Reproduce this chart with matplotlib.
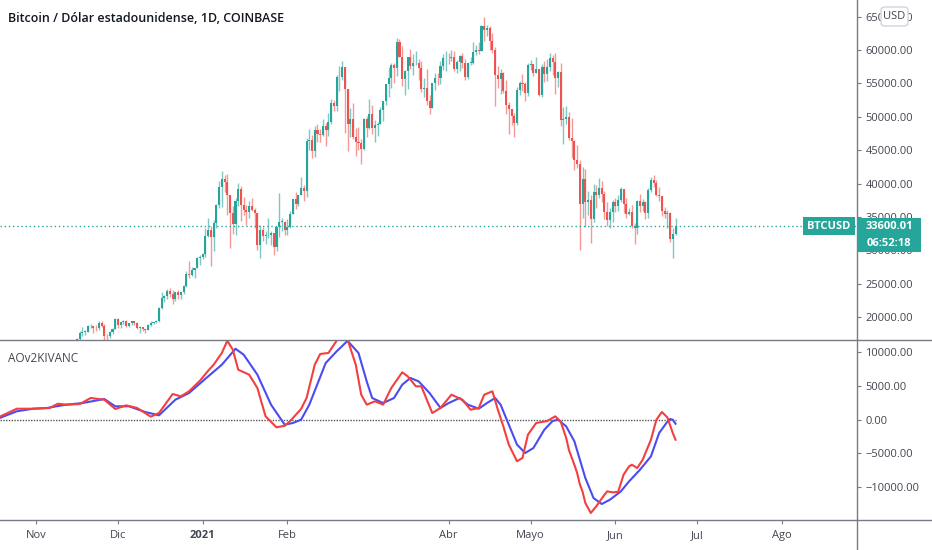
import numpy as np
import pandas as pd
import matplotlib
matplotlib.use("Agg")
import matplotlib.pyplot as plt
import matplotlib.dates as mdates
from matplotlib.patches import Rectangle, FancyBboxPatch
from matplotlib.lines import Line2D
from matplotlib.ticker import FuncFormatter

plt.rcParams['font.family'] = ['Open Sans', 'DejaVu Sans']

# ---- daily candles, BTC/USD Coinbase, 2020-11-10 .. 2021-06-23 ----
first_day = '2020-11-10'
opens = [15330, 15310, 15700, 16290, 16330, 16080, 15960, 16720, 17660, 17800, 17820, 18670, 18680, 18400, 18370, 19160, 18730, 17150, 17140, 17730, 18180,
         19700, 18790, 19220, 19450, 18690, 19150, 19370, 19170, 18320, 18550, 18250, 18040, 18800, 19170, 19270, 19440, 21350, 22800, 23130, 23860, 23480, 22740, 23820, 23250, 23720, 24700, 26490, 26280, 27040, 27370, 28880,
         28990, 29410, 32200, 33000, 32030, 34050, 36860, 39490, 40670, 40240, 38240, 35540, 34010, 37390, 39150, 36770, 36020, 35820, 36630, 36020, 35530, 30830, 33010, 32090, 32270, 32370, 32570, 30440, 33470, 34300, 34300,
         33110, 33530, 35510, 37670, 36900, 38310, 39280, 38880, 46450, 46500, 44850, 48010, 47410, 47230, 48690, 47960, 49150, 52140, 51620, 55920, 55920, 57490, 54120, 48890, 49720, 47020, 46280, 46130,
         45160, 49620, 48390, 50360, 48380, 48760, 48880, 50970, 52390, 54880, 55860, 57800, 57250, 61180, 59000, 55650, 56930, 58920, 57650, 58030, 58110, 57360, 54110, 54340, 52300, 51300, 55040, 55850, 55780, 57610, 58770,
         58800, 58730, 58980, 57090, 58210, 59120, 57990, 56000, 58070, 58100, 59770, 59990, 59850, 63580, 62960, 63220, 61420, 60060, 56250, 55700, 56500, 53800, 51720, 51200, 50100, 49080, 54020, 55040, 54860, 53580,
         57750, 57830, 56620, 57210, 53250, 57510, 56440, 57390, 58870, 58260, 55850, 56720, 49500, 49680, 49900, 46760, 46450, 43550, 42900, 37000, 40700, 37300, 37500, 34700, 38800, 38300, 39300, 38500, 35700, 34600, 35700,
         37300, 36700, 37600, 39200, 36900, 35500, 35800, 33600, 33400, 37400, 36700, 37300, 35550, 39050, 40550, 40150, 38350, 38100, 35850, 35500, 35600, 31650, 32500]
highs = [15480, 15970, 16340, 16490, 16330, 16150, 16880, 17860, 18480, 18140, 18820, 18970, 18700, 18770, 19420, 19490, 18920, 17460, 17880, 18350, 19860,
         19920, 19340, 19580, 19520, 19180, 19420, 19420, 19290, 18640, 18560, 18290, 18950, 19420, 19350, 19570, 21560, 23770, 23300, 24170, 24300, 24100, 23840, 24100, 23780, 24790, 26870, 28420, 27500, 27380, 28990, 29300,
         29680, 33300, 34800, 33600, 34500, 36950, 40380, 41950, 41350, 41420, 38250, 36630, 37850, 40100, 39700, 37950, 36860, 37450, 37850, 36420, 35580, 33830, 33480, 32950, 34880, 32900, 32570, 31990, 38530, 34920, 34340,
         34700, 35950, 37660, 38700, 38330, 40950, 39740, 46800, 48200, 47340, 48650, 48970, 48120, 49700, 49000, 50600, 52620, 52550, 56330, 57560, 58350, 57520, 54180, 51370, 52100, 48380, 48400, 46640,
         49800, 50150, 52600, 51770, 49450, 49200, 51450, 52400, 54900, 57400, 58100, 58000, 61780, 61650, 60600, 56950, 58990, 60100, 59450, 59900, 58650, 58400, 55850, 57200, 53240, 55100, 56600, 56550, 58400, 59400, 59800,
         59480, 60050, 59780, 58500, 59250, 59480, 58650, 58180, 58900, 61200, 60700, 61200, 63800, 64900, 63800, 63550, 62500, 60430, 57600, 57100, 56750, 55500, 52200, 51200, 50550, 54400, 55400, 56400, 55200, 58000,
         58500, 57950, 58950, 57220, 57900, 58400, 58700, 59500, 59250, 59600, 56900, 58000, 51400, 51550, 50700, 49800, 46600, 45800, 43550, 42550, 42200, 38850, 38300, 39900, 39800, 40900, 40400, 38900, 37300, 36400, 37500,
         37900, 38250, 39450, 39250, 37900, 36400, 36800, 34050, 37550, 38450, 37700, 37450, 39350, 41000, 41350, 40500, 39550, 38200, 36450, 36100, 35750, 33350, 34850]
lows = [15090, 15280, 15430, 15970, 15710, 15800, 15880, 16570, 17220, 17360, 17760, 18380, 17600, 18000, 18070, 18570, 16330, 16500, 16880, 17540, 18180,
        18320, 18330, 18920, 18570, 18500, 18860, 18900, 18200, 17650, 17910, 17570, 18020, 18700, 19000, 19060, 19300, 21240, 22350, 22780, 23080, 22000, 22380, 22660, 22720, 23450, 24500, 25820, 26100, 25880, 27320, 27850,
        28700, 28950, 32000, 27700, 29900, 33300, 36300, 36500, 38700, 35250, 30420, 32400, 32380, 36700, 34400, 35360, 33850, 34800, 35900, 33400, 30070, 28850, 31390, 30900, 31900, 30830, 29240, 29850, 31990, 32830, 32300,
        32300, 33420, 35380, 36160, 36600, 38240, 37350, 37990, 45000, 43800, 43940, 46250, 46200, 47070, 45600, 47060, 48960, 50900, 50800, 53900, 55500, 47600, 44900, 47000, 46700, 44150, 45050, 43000,
        45000, 47050, 48100, 47500, 46300, 47070, 48880, 49300, 51840, 53000, 54300, 55000, 56100, 59000, 54600, 53300, 54200, 57100, 56300, 57800, 55500, 53700, 53000, 51700, 50400, 51300, 53950, 54700, 54900, 57000, 56900,
        57950, 58400, 56900, 56500, 56800, 57350, 55450, 55700, 57700, 57900, 59300, 59400, 59850, 61300, 62050, 60000, 59600, 51600, 54250, 53450, 53600, 50400, 47500, 48800, 47050, 48800, 53300, 53900, 52400, 53050,
        57050, 56050, 56500, 53050, 52900, 55250, 55300, 56900, 56300, 53400, 54500, 48600, 46000, 48900, 46600, 43800, 42100, 42300, 30000, 34900, 33500, 35250, 31100, 34300, 36400, 37800, 37200, 34700, 33600, 33400, 34200,
        35700, 35950, 37200, 35600, 34800, 35250, 33350, 31000, 32400, 35800, 35950, 34650, 34800, 38750, 39550, 38100, 37400, 35150, 34850, 33350, 31300, 28800, 32300]
closes = [15310, 15700, 16290, 16330, 16080, 15960, 16720, 17660, 17800, 17820, 18670, 18680, 18400, 18370, 19160, 18730, 17150, 17140, 17730, 18180, 19700,
          18790, 19220, 19450, 18690, 19150, 19370, 19170, 18320, 18550, 18250, 18040, 18800, 19170, 19270, 19440, 21350, 22800, 23130, 23860, 23480, 22740, 23820, 23250, 23720, 24700, 26490, 26280, 27040, 27370, 28880, 28990,
          29410, 32200, 33000, 32030, 34050, 36860, 39490, 40670, 40240, 38240, 35540, 34010, 37390, 39150, 36770, 36020, 35820, 36630, 36020, 35530, 30830, 33010, 32090, 32270, 32370, 32570, 30440, 33470, 34300, 34300, 33110,
          33530, 35510, 37670, 36900, 38310, 39280, 38880, 46450, 46500, 44850, 48010, 47410, 47230, 48690, 47960, 49150, 52140, 51620, 55920, 55920, 57490, 54120, 48890, 49720, 47020, 46280, 46130, 45160,
          49620, 48390, 50360, 48380, 48760, 48880, 50970, 52390, 54880, 55860, 57800, 57250, 61180, 59000, 55650, 56930, 58920, 57650, 58030, 58110, 57360, 54110, 54340, 52300, 51300, 55040, 55850, 55780, 57610, 58770, 58800,
          58730, 58980, 57090, 58210, 59120, 57990, 56000, 58070, 58100, 59770, 59990, 59850, 63580, 62960, 63220, 61420, 60060, 56250, 55700, 56500, 53800, 51720, 51200, 50100, 49080, 54020, 55040, 54860, 53580, 57750,
          57830, 56620, 57210, 53250, 57510, 56440, 57390, 58870, 58260, 55850, 56720, 49500, 49680, 49900, 46760, 46450, 43550, 42900, 37000, 40700, 37300, 37500, 34700, 38800, 38300, 39300, 38500, 35700, 34600, 35700, 37300,
          36700, 37600, 39200, 36900, 35500, 35800, 33600, 33400, 37400, 36700, 37300, 35550, 39050, 40550, 40150, 38350, 38100, 35850, 35500, 35600, 31650, 32500, 33600.01]

# ---- AOv2 KIVANC oscillator (red) and its signal (blue) ----
ao_dates = ['2020-10-19', '2020-10-25', '2020-10-31', '2020-11-06', '2020-11-09', '2020-11-12', '2020-11-17', '2020-11-21',
            '2020-11-26', '2020-11-30', '2020-12-04', '2020-12-08', '2020-12-13', '2020-12-16', '2020-12-21', '2020-12-24',
            '2020-12-27', '2020-12-31', '2021-01-03', '2021-01-05', '2021-01-08', '2021-01-10', '2021-01-12', '2021-01-14',
            '2021-01-18', '2021-01-21', '2021-01-24', '2021-01-28', '2021-01-31', '2021-02-02', '2021-02-06', '2021-02-08',
            '2021-02-11', '2021-02-13', '2021-02-16', '2021-02-19', '2021-02-21', '2021-02-23', '2021-02-26', '2021-02-28',
            '2021-03-02', '2021-03-05', '2021-03-08', '2021-03-11', '2021-03-15', '2021-03-17', '2021-03-20', '2021-03-22',
            '2021-03-24', '2021-03-26', '2021-03-29', '2021-04-02', '2021-04-06', '2021-04-09', '2021-04-12', '2021-04-14',
            '2021-04-17', '2021-04-19', '2021-04-21', '2021-04-23', '2021-04-26', '2021-04-28', '2021-04-30', '2021-05-03',
            '2021-05-07', '2021-05-10', '2021-05-12', '2021-05-14', '2021-05-15', '2021-05-17', '2021-05-18', '2021-05-19',
            '2021-05-20', '2021-05-21', '2021-05-23', '2021-05-25', '2021-05-28', '2021-05-29', '2021-05-31', '2021-06-02',
            '2021-06-04', '2021-06-06', '2021-06-07', '2021-06-09', '2021-06-11', '2021-06-14', '2021-06-16', '2021-06-18',
            '2021-06-20', '2021-06-22', '2021-06-23']
ao_red = [500, 1630, 1630, 1740, 2370, 2230, 2320, 3220,
          2970, 1590, 2130, 1740, 450, 990, 3810, 3470,
          4210, 5790, 7270, 8160, 9900, 11720, 10390, 7420,
          6680, 4700, 500, -1130, -900, -200, 1600, 3220,
          8160, 9750, 9900, 11720, 12500, 11900, 8160, 3710,
          2230, 2730, 2230, 4700, 7030, 6440, 4950, 4950,
          2970, 990, 1740, 3710, 2970, 1480, 1740, 3710,
          4210, 1480, -990, -3700, -6170, -5670, -2220, -490,
          -200, 500, -300, -2720, -4500, -6700, -7910, -9600,
          -10700, -12360, -13840, -12850, -11130, -10630, -10780, -10700,
          -8160, -6920, -6680, -7170, -5930, -2970, 0, 1140,
          350, -1980, -2970]

sig_dates = ['2020-10-19', '2020-10-25', '2020-10-31', '2020-11-05', '2020-11-12', '2020-11-18', '2020-11-26', '2020-11-30',
             '2020-12-05', '2020-12-11', '2020-12-16', '2020-12-22', '2020-12-27', '2021-01-02', '2021-01-08', '2021-01-13',
             '2021-01-16', '2021-01-21', '2021-01-26', '2021-01-31', '2021-02-03', '2021-02-06', '2021-02-09', '2021-02-15',
             '2021-02-19', '2021-02-23', '2021-02-27', '2021-03-02', '2021-03-04', '2021-03-08', '2021-03-12', '2021-03-15',
             '2021-03-18', '2021-03-21', '2021-03-25', '2021-03-29', '2021-04-01', '2021-04-05', '2021-04-08', '2021-04-12',
             '2021-04-15', '2021-04-18', '2021-04-20', '2021-04-23', '2021-04-26', '2021-04-29', '2021-05-02', '2021-05-06',
             '2021-05-09', '2021-05-11', '2021-05-14', '2021-05-17', '2021-05-19', '2021-05-21', '2021-05-24', '2021-05-27',
             '2021-05-30', '2021-06-03', '2021-06-06', '2021-06-10', '2021-06-14', '2021-06-17', '2021-06-20', '2021-06-21',
             '2021-06-22', '2021-06-23']
sig_blue = [300, 1250, 1630, 1740, 2230, 2470, 3070, 1990,
            1990, 1140, 650, 2970, 3960, 6080, 8160, 10530,
            9640, 6680, 2230, -740, -490, 0, 2230, 8410,
            10140, 11700, 9900, 5690, 3220, 2470, 3220, 5190,
            6190, 5690, 3960, 1740, 2470, 3220, 2230, 1630,
            2470, 3220, 2230, -740, -3700, -4940, -4200, -1480,
            -200, 0, -990, -3210, -5930, -8650, -11620, -12510,
            -11870, -10630, -9150, -7420, -5440, -1980, -300, 100,
            0, -600]

price_ticks = [20000, 25000, 30000, 35000, 40000, 45000, 50000, 55000, 60000, 65000]
osc_ticks = [-10000, -5000, 0, 5000, 10000]
month_ticks = ['2020-11-01', '2020-12-01', '2021-01-01', '2021-02-01', '2021-04-01',
               '2021-05-01', '2021-06-01', '2021-07-01', '2021-08-01']
month_labels = ['Nov', 'Dic', '2021', 'Feb', 'Abr', 'Mayo', 'Jun', 'Jul', 'Ago']

title = 'Bitcoin / Dólar estadounidense, 1D, COINBASE'
countdown = '06:52:18'

TEAL = '#26a69a'
RED = '#ef5350'
AXC = '#787b86'
TXT = '#131722'
LBL = '#434651'

W, H = 932, 550
fig = plt.figure(figsize=(W / 100, H / 100), dpi=100)


def fx(px):
    return px / W


def fy(py):
    return 1 - py / H


ax1 = fig.add_axes([0, fy(340), fx(857), 340 / H])
ax2 = fig.add_axes([0, fy(520), fx(857), 180 / H], sharex=ax1)

# candles
o, h, l, c = (np.array(v, dtype=float) for v in (opens, highs, lows, closes))
days = mdates.date2num(pd.date_range(first_day, periods=len(c), freq='D'))
cols = np.where(c >= o, TEAL, RED)
ax1.vlines(days, l, h, colors=cols, lw=1, alpha=0.6)
ax1.bar(days, np.maximum(np.abs(c - o), 80), bottom=np.minimum(o, c), width=0.75,
        color=cols, lw=0)
ax1.axhline(c[-1], color=TEAL, lw=1, ls=(0, (1, 2)))

# oscillator
ax_x = mdates.date2num(pd.to_datetime(ao_dates))
sg_x = mdates.date2num(pd.to_datetime(sig_dates))
ax2.plot([ax_x[0], ax_x[-1]], [0, 0], color='#555555', lw=1, ls=(0, (1, 1)))
ax2.plot(sg_x, sig_blue, color='#4a4cf0', lw=1.5)
ax2.plot(ax_x, ao_red, color='#f43f3f', lw=1.5)

x0 = mdates.date2num(pd.Timestamp('2020-11-01'))
ax1.set_xlim(x0 - 13.17, x0 + 300.4)
ax1.set_ylim(16587, 67485)
ax2.set_ylim(-14881, 11825)

fmt = FuncFormatter(lambda v, p: f'{v:.2f}'.replace('-', '\u2212'))
for ax, ticks in ((ax1, price_ticks), (ax2, osc_ticks)):
    for s in ('top', 'left', 'bottom'):
        ax.spines[s].set_visible(False)
    ax.spines['right'].set_color(AXC)
    ax.spines['right'].set_linewidth(1)
    ax.yaxis.tick_right()
    ax.set_yticks(ticks)
    ax.yaxis.set_major_formatter(fmt)
    ax.tick_params(axis='y', direction='out', length=3, width=0.8, color=AXC,
                   labelsize=8, labelcolor=LBL, pad=3)

ax1.tick_params(axis='x', bottom=False, labelbottom=False)
ax2.set_xticks(mdates.date2num(pd.to_datetime(month_ticks)))
ax2.set_xticklabels(month_labels)
ax2.tick_params(axis='x', direction='out', length=3, width=0.8, color=AXC,
                labelsize=8, labelcolor=LBL, pad=4)
for t in ax2.get_xticklabels():
    if t.get_text() == '2021':
        t.set_fontweight('bold')

# pane separators
for y in (340, 520):
    fig.add_artist(Line2D([0, 1], [fy(y), fy(y)], transform=fig.transFigure, color=AXC, lw=1))
fig.add_artist(Line2D([fx(857), fx(857)], [0, fy(520)], transform=fig.transFigure, color=AXC, lw=1))

# texts
fig.text(fx(8), fy(18), title, ha='left', va='center', fontsize=9, color=TXT, weight='semibold')
fig.text(fx(8), fy(359), 'AOv2KIVANC', ha='left', va='center', fontsize=8.5, color=LBL)

# last price labels
py = H - ax1.transData.transform((x0, c[-1]))[1]
fig.add_artist(Rectangle((fx(803), fy(py + 9)), 52 / W, 18 / H, transform=fig.transFigure,
                         facecolor=TEAL, edgecolor='none'))
fig.text(fx(829), fy(py), 'BTCUSD', ha='center', va='center', fontsize=8, color='white', weight='bold')
fig.add_artist(Rectangle((fx(857), fy(py + 26)), 64 / W, 34 / H, transform=fig.transFigure,
                         facecolor=TEAL, edgecolor='none'))
fig.text(fx(889), fy(py), f'{c[-1]:.2f}', ha='center', va='center', fontsize=8, color='white', weight='bold')
fig.text(fx(889), fy(py + 17), countdown, ha='center', va='center', fontsize=8, color='white', weight='bold')

# currency badge
fig.add_artist(FancyBboxPatch((fx(881), fy(26)), 27 / W, 19 / H, transform=fig.transFigure,
                              boxstyle='round,pad=0,rounding_size=0.005',
                              facecolor='white', edgecolor='#d1d4dc', lw=1))
fig.text(fx(894.5), fy(16.5), 'USD', ha='center', va='center', fontsize=8, color=LBL)

fig.savefig('out.png', dpi=100, facecolor='white')
